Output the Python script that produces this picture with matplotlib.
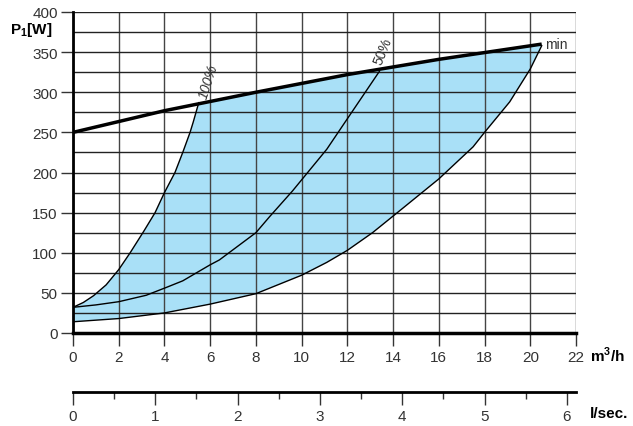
import numpy as np
import matplotlib
matplotlib.use("Agg")
import matplotlib.pyplot as plt

plt.rcParams['font.family'] = ['Liberation Sans', 'DejaVu Sans']
plt.rcParams['mathtext.fontset'] = 'custom'
plt.rcParams['mathtext.rm'] = 'Liberation Sans:bold'
plt.rcParams['mathtext.bf'] = 'Liberation Sans:bold'

# top (max) line
top_x = [0, 4, 8, 12, 16, 20.5]
top_y = [250, 277, 300, 322, 341, 360]

# 100% curve
c100_x = [0, 0.45, 0.9, 1.45, 2, 2.5, 3.1, 3.59, 4.0, 4.46, 4.8, 5.12, 5.26, 5.5]
c100_y = [32, 38, 46.5, 60, 79, 100, 127, 150, 175, 200, 225, 250, 263, 287]

# 50% curve
c50_x = [0, 1, 2, 3.2, 4.1, 4.8, 6, 6.4, 8, 8.6, 9.6, 11.1, 12, 13.4]
c50_y = [32, 35, 39, 47, 57, 65, 85, 91, 125, 145, 177, 229, 267, 326]

# min curve
cmin_x = [0, 2, 4, 6, 8, 10, 11.1, 12, 13.1, 14.1, 16, 17.5, 18, 19.1, 20, 20.5]
cmin_y = [14, 18, 25, 36, 49, 72, 88, 103, 125, 148, 192, 232, 250, 288, 329, 358]

x_ticks = np.arange(0, 23, 2)
y_ticks = np.arange(0, 401, 50)
ls_ticks = np.arange(0, 7, 1)

W, H = 633, 427
fig = plt.figure(figsize=(W / 100, H / 100), dpi=100)
ax = fig.add_axes([73 / W, (H - 334) / H, 503 / W, 321 / H])

ax.set_xlim(0, 22)
ax.set_ylim(0, 400)

# shaded area: upper boundary = 100% curve then top line, lower = min curve
tx = np.linspace(5.5, 20.5, 60)
ty = np.interp(tx, top_x, top_y)
poly_x = list(c100_x) + list(tx) + list(cmin_x[::-1])
poly_y = list(c100_y) + list(ty) + list(cmin_y[::-1])
ax.fill(poly_x, poly_y, color='#a9e0f7', zorder=1, lw=0)

# grid
for xv in x_ticks:
    ax.axvline(xv, color='#444444', lw=1, zorder=2)
for yv in np.arange(0, 401, 25):
    ax.axhline(yv, color='#222222', lw=1, zorder=2)

ax.plot(c100_x, c100_y, color='black', lw=1, zorder=3)
ax.plot(c50_x, c50_y, color='black', lw=1, zorder=3)
ax.plot(cmin_x, cmin_y, color='black', lw=1, zorder=3)
ax.plot(top_x, top_y, color='black', lw=2.5, zorder=4, solid_capstyle='butt')

ax.text(20.65, 360, 'min', fontsize=10, color='#333333', va='center', ha='left')
ax.text(5.9, 314, '100%', fontsize=10, color='#333333', rotation=72,
        ha='center', va='center', style='italic')
ax.text(13.55, 352, '50%', fontsize=10, color='#333333', rotation=68,
        ha='center', va='center')

for s in ['top', 'right']:
    ax.spines[s].set_visible(False)
ax.spines['left'].set_linewidth(2)
ax.spines['bottom'].set_linewidth(2.5)
ax.spines['left'].set_zorder(5)
ax.spines['bottom'].set_zorder(5)

ax.set_xticks(x_ticks)
ax.set_yticks(y_ticks)
ax.tick_params(axis='both', direction='out', length=9, width=1, labelsize=11,
               labelcolor='#333333', color='#333333', pad=3)
ax.tick_params(axis='y', pad=2)

fig.text(10 / W, (H - 30) / H, r'P$_{1}$[W]', fontsize=11,
         fontweight='bold', va='center', ha='left')
fig.text(590 / W, (H - 355) / H, r'm$^{3}$/h', fontsize=11,
         fontweight='bold', va='center', ha='left')

# second axis in l/sec
ax2 = fig.add_axes([73 / W, (H - 393) / H, 503 / W, 0.001])
ax2.set_xlim(0, 22 / 3.6)
ax2.set_ylim(0, 1)
for s in ['top', 'right', 'left']:
    ax2.spines[s].set_visible(False)
ax2.spines['bottom'].set_linewidth(2)
ax2.set_yticks([])
ax2.set_xticks(ls_ticks)
ax2.set_xticks(np.arange(0.5, 6, 1), minor=True)
ax2.tick_params(axis='x', which='major', direction='out', length=9, width=1,
                labelsize=11, labelcolor='#333333', color='#333333', pad=3)
ax2.tick_params(axis='x', which='minor', direction='out', length=5, width=1,
                color='#333333')
fig.text(590 / W, (H - 414) / H, 'l/sec.', fontsize=11, fontweight='bold',
         va='center', ha='left')

fig.savefig('out.png', dpi=100)
